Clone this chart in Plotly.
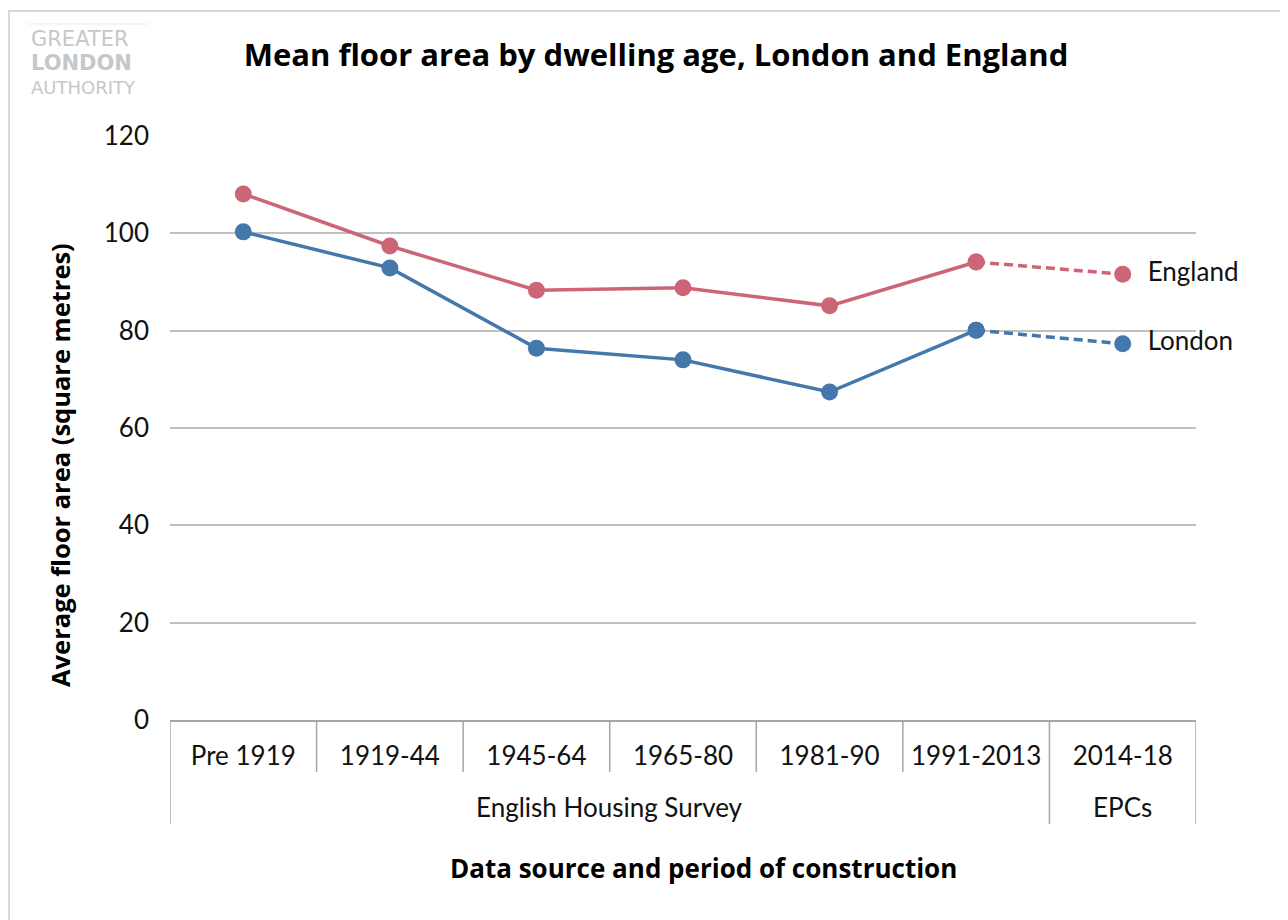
import plotly.graph_objects as go

periods = ["Pre 1919", "1919-44", "1945-64", "1965-80", "1981-90", "1991-2013", "2014-18"]
sources = ["English Housing Survey"] * 6 + ["EPCs"]
england = [108.1, 97.4, 88.3, 88.8, 85.1, 94.1, 91.6]
london = [100.3, 92.9, 76.4, 74.0, 67.4, 80.1, 77.3]
colors = {"England": "#CC6677", "London": "#4477AA"}

W, H = 1288, 920
ML, MR, MT, MB = 162, 100, 128, 208
PW, PH = W - ML - MR, H - MT - MB

def px(x):
    return (x - ML) / PW

def py(y):
    return (H - MB - y) / PH

FONT = "Lato, 'Noto Sans', sans-serif"
BOLD = "'Open Sans', 'Noto Sans', sans-serif"
LOGO = "'DejaVu Sans', sans-serif"
AXC = "#a6a6a6"

fig = go.Figure()
for name, vals in [("England", england), ("London", london)]:
    c = colors[name]
    fig.add_trace(go.Scatter(
        x=periods[:6], y=vals[:6], mode="lines+markers",
        line=dict(color=c, width=3.5), marker=dict(size=17, color=c),
        name=name, showlegend=False, hoverinfo="y"))
    fig.add_trace(go.Scatter(
        x=periods[5:], y=vals[5:], mode="lines+markers+text",
        line=dict(color=c, width=3.5, dash="9px,5px"), marker=dict(size=17, color=c),
        text=["", "  " + name], textposition="middle right",
        textfont=dict(family=FONT, size=26, color="#111111"),
        name=name, showlegend=False, hoverinfo="y", cliponaxis=False))

# separators between categories and groups, plus group labels
shapes = [dict(type="rect", xref="paper", yref="paper",
               x0=px(1), x1=px(1400), y0=py(1000), y1=py(3),
               line=dict(color="#d9d9d9", width=2), layer="below"),
          dict(type="line", xref="paper", yref="paper",
               x0=px(20), x1=px(140), y0=py(16), y1=py(16),
               line=dict(color="#e6eaec", width=1))]
n = len(periods)
for i in range(n + 1):
    long = i == 0 or i == n or sources[i] != sources[i - 1]
    shapes.append(dict(type="line", xref="x", yref="paper",
                       x0=i - 0.5, x1=i - 0.5, y0=0, y1=py(816 if long else 764),
                       line=dict(color=AXC, width=1.5)))

annotations = []
groups = []
for i, s in enumerate(sources):
    if not groups or groups[-1][0] != s:
        groups.append([s, []])
    groups[-1][1].append(i)
for s, idx in groups:
    annotations.append(dict(text=s, xref="x", yref="paper",
                            x=sum(idx) / len(idx), y=py(799),
                            xanchor="center", yanchor="middle", showarrow=False,
                            font=dict(family=FONT, size=26, color="#111111")))

logo_text = ("<span style='font-size:21px'>GREATER</span><br>"
             "<span style='font-size:21px'><b>LONDON</b></span><br>"
             "<span style='font-size:18px'>AUTHORITY</span>")

annotations += [
    dict(text="<b>Data source and period of construction</b>", xref="paper", yref="paper",
         x=px(695), y=py(860), xanchor="center", yanchor="middle", showarrow=False,
         font=dict(family=BOLD, size=26, color="#000000")),
    dict(text="<b>Average floor area (square metres)</b>", xref="paper", yref="paper",
         x=px(52), y=py(457), xanchor="center", yanchor="middle", showarrow=False,
         textangle=-90, font=dict(family=BOLD, size=25.5, color="#000000")),
    dict(text=logo_text, xref="paper", yref="paper", x=px(21), y=py(54),
         xanchor="left", yanchor="middle", align="left", showarrow=False,
         font=dict(family=LOGO, size=18.5, color="#c4c8ca")),
]

fig.update_layout(
    width=W, height=H,
    margin=dict(l=ML, r=MR, t=MT, b=MB),
    paper_bgcolor="white", plot_bgcolor="white",
    font=dict(family=FONT, size=26, color="#111111"),
    title=dict(text="<b>Mean floor area by dwelling age, London and England</b>",
               x=px(648), xref="paper", xanchor="center", y=1 - 47 / H, yanchor="middle",
               font=dict(family=BOLD, size=31, color="#000000")),
    xaxis=dict(
        type="category", range=[-0.5, n - 0.5],
        showline=True, linecolor=AXC, linewidth=1.5,
        ticks="", ticklabelstandoff=12,
        tickfont=dict(family=FONT, size=26, color="#111111"),
        showgrid=False, zeroline=False),
    yaxis=dict(
        range=[0, 120], dtick=20, showgrid=True, gridcolor="#c0c0c0", gridwidth=1.5,
        zeroline=False, showline=False, ticks="", ticklabelstandoff=20,
        tickfont=dict(family=FONT, size=26, color="#111111")),
    shapes=shapes,
    annotations=annotations,
)

fig.write_html("out.html")
